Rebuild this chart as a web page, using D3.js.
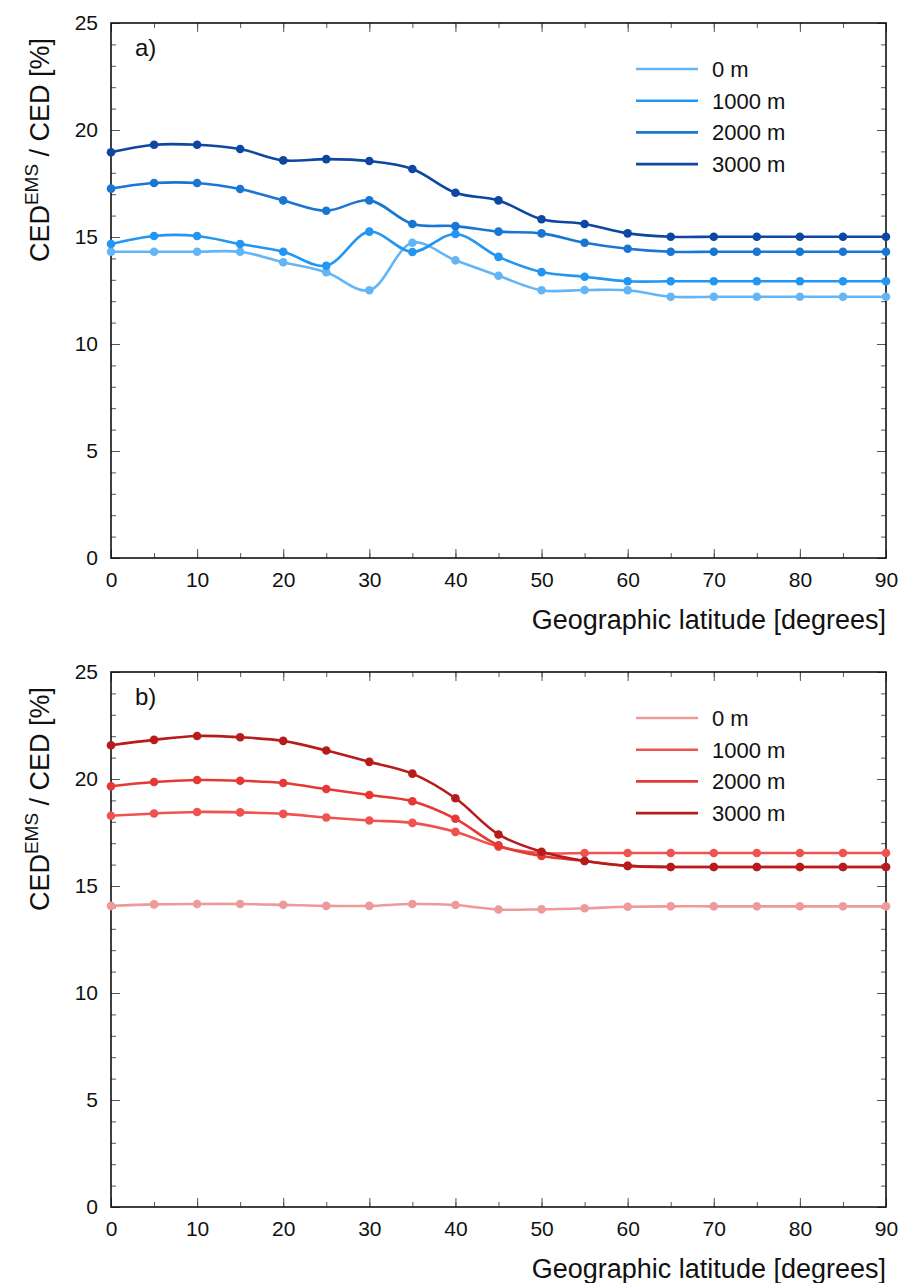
<!DOCTYPE html>
<html>
<head>
<meta charset="utf-8">
<script src="https://cdn.jsdelivr.net/npm/d3@7"></script>
<style>
  body { margin: 0; background: #fff; }
  text { font-family: "Liberation Sans", Arial, sans-serif; fill: #111; }
</style>
</head>
<body>
<div id="chart"></div>
<script>
// latitudes (degrees)
var latitudes = [0, 5, 10, 15, 20, 25, 30, 35, 40, 45, 50, 55, 60, 65, 70, 75, 80, 85, 90];
var altitudes = ["0 m", "1000 m", "2000 m", "3000 m"];

// panel a) values
var a0 = [14.31, 14.31, 14.31, 14.31, 13.82, 13.35, 12.51, 14.73, 13.91, 13.19, 12.51, 12.52, 12.51, 12.21, 12.21, 12.21, 12.21, 12.21, 12.21];
var a1000 = [14.67, 15.05, 15.05, 14.67, 14.31, 13.66, 15.25, 14.30, 15.14, 14.07, 13.36, 13.14, 12.93, 12.93, 12.93, 12.93, 12.93, 12.93, 12.93];
var a2000 = [17.26, 17.52, 17.52, 17.24, 16.71, 16.23, 16.71, 15.61, 15.51, 15.25, 15.17, 14.73, 14.45, 14.31, 14.31, 14.31, 14.31, 14.31, 14.31];
var a3000 = [18.96, 19.31, 19.31, 19.11, 18.58, 18.64, 18.55, 18.18, 17.07, 16.71, 15.83, 15.61, 15.17, 15.01, 15.01, 15.01, 15.01, 15.01, 15.01];

// panel b) values
var b0 = [14.07, 14.14, 14.16, 14.16, 14.12, 14.07, 14.07, 14.16, 14.11, 13.90, 13.91, 13.96, 14.03, 14.05, 14.05, 14.05, 14.05, 14.05, 14.05];
var b1000 = [18.28, 18.39, 18.46, 18.44, 18.37, 18.20, 18.06, 17.95, 17.53, 16.84, 16.54, 16.54, 16.54, 16.54, 16.54, 16.54, 16.54, 16.54, 16.54];
var b2000 = [19.66, 19.86, 19.95, 19.92, 19.81, 19.53, 19.25, 18.96, 18.14, 16.90, 16.40, 16.17, 15.94, 15.89, 15.89, 15.89, 15.89, 15.89, 15.89];
var b3000 = [21.58, 21.83, 22.01, 21.95, 21.78, 21.33, 20.80, 20.25, 19.10, 17.41, 16.60, 16.17, 15.94, 15.89, 15.89, 15.89, 15.89, 15.89, 15.89];

var blues = ["#64b5f6", "#2196f3", "#1976d2", "#0d47a1"];
var reds = ["#ef9a9a", "#ef5350", "#e53935", "#b71c1c"];

var xTicks = [0, 10, 20, 30, 40, 50, 60, 70, 80, 90];
var yTicks = [0, 5, 10, 15, 20, 25];

var svgWidth = 904;
var svgHeight = 1283;

var margin = { left: 111, right: 18 };
var width = svgWidth - margin.left - margin.right;
var height = 535;

var svg = d3.select("#chart")
  .append("svg")
  .attr("width", svgWidth)
  .attr("height", svgHeight);

var x = d3.scaleLinear().domain([0, 90]).range([0, width]);
var y = d3.scaleLinear().domain([0, 25]).range([height, 0]);

function drawPanel(top, seriesList, colors, panelLabel) {
  var g = svg.append("g").attr("transform", `translate(${margin.left}, ${top})`);

  // minor ticks on all sides (inward)
  var minorX = d3.range(0, 91, 5);
  var minorY = d3.range(0, 26, 1);
  g.append("g").attr("transform", `translate(0, ${height})`)
    .call(d3.axisBottom(x).tickValues(minorX).tickSize(-5).tickFormat(""));
  g.append("g")
    .call(d3.axisTop(x).tickValues(minorX).tickSize(-5).tickFormat(""));
  g.append("g")
    .call(d3.axisLeft(y).tickValues(minorY).tickSize(-5).tickFormat(""));
  g.append("g").attr("transform", `translate(${width}, 0)`)
    .call(d3.axisRight(y).tickValues(minorY).tickSize(-5).tickFormat(""));

  // major ticks with labels
  g.append("g").attr("class", "xaxis").attr("transform", `translate(0, ${height})`)
    .call(d3.axisBottom(x).tickValues(xTicks).tickSize(-9).tickPadding(14));
  g.append("g")
    .call(d3.axisTop(x).tickValues(xTicks).tickSize(-9).tickFormat(""));
  g.append("g").attr("class", "yaxis")
    .call(d3.axisLeft(y).tickValues(yTicks).tickSize(-9).tickPadding(13));
  g.append("g").attr("transform", `translate(${width}, 0)`)
    .call(d3.axisRight(y).tickValues(yTicks).tickSize(-9).tickFormat(""));

  g.selectAll(".domain").remove();
  g.selectAll(".tick line").attr("stroke", "#555").attr("stroke-width", 1);
  g.selectAll(".tick text")
    .style("font-family", "Liberation Sans, Arial, sans-serif")
    .style("font-size", "21px")
    .attr("fill", "#111");

  // frame
  g.append("rect")
    .attr("width", width).attr("height", height)
    .attr("fill", "none").attr("stroke", "#111").attr("stroke-width", 1.6);

  var line = d3.line()
    .x((d, i) => x(latitudes[i]))
    .y(d => y(d))
    .curve(d3.curveCatmullRom.alpha(0.5));

  seriesList.forEach(function(vals, k) {
    g.append("path")
      .attr("d", line(vals))
      .attr("fill", "none")
      .attr("stroke", colors[k])
      .attr("stroke-width", 2.6);
    g.selectAll(null)
      .data(vals)
      .enter()
      .append("circle")
      .attr("cx", (d, i) => x(latitudes[i]))
      .attr("cy", d => y(d))
      .attr("r", 4.3)
      .attr("fill", colors[k]);
  });

  // panel label
  g.append("text")
    .attr("x", 24).attr("y", 33)
    .style("font-size", "24px")
    .text(panelLabel);

  // legend
  var legend = g.append("g").attr("transform", `translate(${636 - margin.left}, ${46})`);
  altitudes.forEach(function(name, k) {
    var ly = k * 31.7;
    legend.append("line")
      .attr("x1", 0).attr("x2", 62)
      .attr("y1", ly).attr("y2", ly)
      .attr("stroke", colors[k]).attr("stroke-width", 2.6);
    legend.append("text")
      .attr("x", 76).attr("y", ly + 8)
      .style("font-size", "22px")
      .text(name);
  });

  // x axis label
  g.append("text")
    .attr("x", width).attr("y", height + 71)
    .attr("text-anchor", "end")
    .style("font-size", "27px")
    .text("Geographic latitude [degrees]");

  // y axis label
  var yl = g.append("text")
    .attr("transform", `translate(${49 - margin.left}, ${127}) rotate(-90)`)
    .attr("text-anchor", "middle")
    .style("font-size", "27px");
  yl.append("tspan").text("CED");
  yl.append("tspan").attr("dy", -11).style("font-size", "19px").text("EMS");
  yl.append("tspan").attr("dy", 11).text(" / CED [%]");
}

drawPanel(23, [a0, a1000, a2000, a3000], blues, "a)");
drawPanel(672, [b0, b1000, b2000, b3000], reds, "b)");
</script>
</body>
</html>
